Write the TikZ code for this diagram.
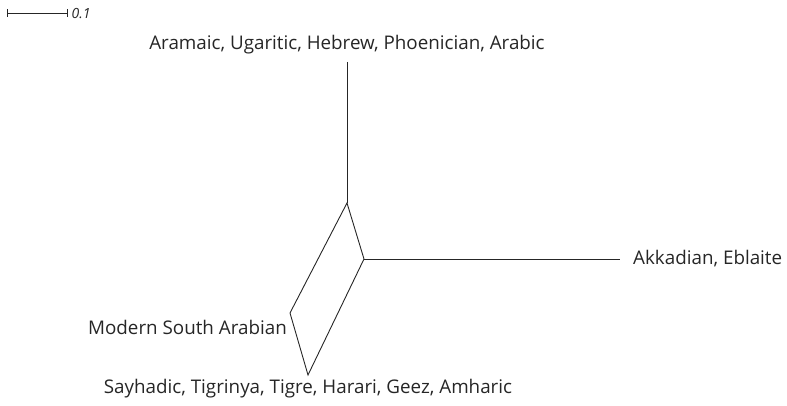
\documentclass[tikz,border=0pt]{standalone}
\usepackage{fontspec}
\setmainfont{Open Sans}
\begin{document}
\begin{tikzpicture}[x=1pt,y=-1pt,
  edge/.style={draw=black!85,line width=0.9pt},
  lab/.style={font=\fontsize{18.8}{22}\selectfont,text=black!85,inner sep=0pt}]
\useasboundingbox (0,0) rectangle (787,406);
% scale bar
\coordinate (s1) at (7,13);
\coordinate (s2) at (67,13);
\draw[edge] (s1) -- (s2);
\draw[edge] ([yshift=-4]s1) -- ([yshift=4]s1);
\draw[edge] ([yshift=-4]s2) -- ([yshift=4]s2);
\node[lab,anchor=west,font=\fontsize{14}{16}\selectfont\itshape] (sc) at (71.5,14) {0.1};
% network vertices
\coordinate (t) at (347,203);
\coordinate (r) at (364,259);
\coordinate (l) at (290,313);
\coordinate (b) at (308,375);
\coordinate (tt) at (347,62);
\coordinate (rr) at (620,259);
\draw[edge] (tt) -- (t);
\draw[edge] (t) -- (r) -- (b) -- (l) -- cycle;
\draw[edge] (r) -- (rr);
% labels
\node[lab] (sem) at (347,45) {Aramaic, Ugaritic, Hebrew, Phoenician, Arabic};
\node[lab,anchor=west] (akk) at (633,259) {Akkadian, Eblaite};
\node[lab,anchor=east] (msa) at (287,327) {Modern South Arabian};
\node[lab] (eth) at (308,389) {Sayhadic, Tigrinya, Tigre, Harari, Geez, Amharic};
\end{tikzpicture}
\end{document}
